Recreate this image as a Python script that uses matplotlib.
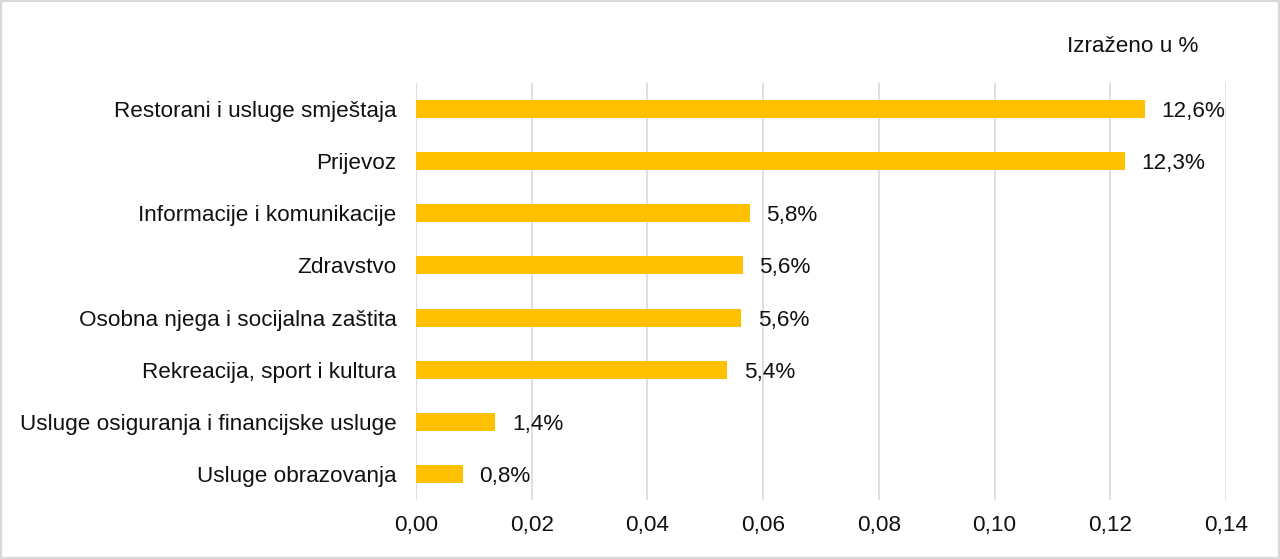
import matplotlib
matplotlib.use("Agg")
import matplotlib.pyplot as plt
from matplotlib.patches import Rectangle

categories = [
    "Restorani i usluge smještaja",
    "Prijevoz",
    "Informacije i komunikacije",
    "Zdravstvo",
    "Osobna njega i socijalna zaštita",
    "Rekreacija, sport i kultura",
    "Usluge osiguranja i financijske usluge",
    "Usluge obrazovanja",
]
values = [0.1260, 0.1225, 0.0577, 0.0565, 0.0562, 0.0538, 0.0137, 0.0081]
value_labels = ["12,6%", "12,3%", "5,8%", "5,6%", "5,6%", "5,4%", "1,4%", "0,8%"]
xticks = [0.00, 0.02, 0.04, 0.06, 0.08, 0.10, 0.12, 0.14]
xtick_labels = ["0,00", "0,02", "0,04", "0,06", "0,08", "0,10", "0,12", "0,14"]
unit_note = "Izraženo u %"

plt.rcParams["font.family"] = ["Liberation Sans", "DejaVu Sans"]
FS = 16.2
TXT = "#111111"

fig = plt.figure(figsize=(12.8, 5.59), dpi=100)
ax = fig.add_axes([0.325, 0.1055, 0.6328, 0.746])

y = list(range(len(categories)))
ax.barh(y, values, height=0.345, color="#FFC000", zorder=3)
for yi, v, lab in zip(y, values, value_labels):
    ax.annotate(lab, (v, yi), xytext=(12, 0), textcoords="offset points",
                va="center_baseline", ha="left", fontsize=FS, color=TXT)

ax.set_ylim(len(categories) - 0.5, -0.5)
ax.set_xlim(0, 0.14)
ax.set_xticks(xticks)
ax.set_xticklabels(xtick_labels, fontsize=FS, color=TXT)
ax.set_yticks(y)
ax.set_yticklabels(categories, fontsize=FS, color=TXT)
ax.tick_params(axis="y", length=0, pad=14)
ax.tick_params(axis="x", length=0, pad=11)
ax.grid(axis="x", color="#d9d9d9", linewidth=1.2, zorder=0)
for s in ax.spines.values():
    s.set_visible(False)

fig.text(1198 / 1280, 1 - 47 / 559, unit_note, ha="right", va="center",
         fontsize=FS, color=TXT)

fig.patches.append(Rectangle((0, 0), 1, 1, transform=fig.transFigure,
                             fill=False, edgecolor="#d9d9d9", linewidth=3))

fig.savefig("out.png", dpi=100)
